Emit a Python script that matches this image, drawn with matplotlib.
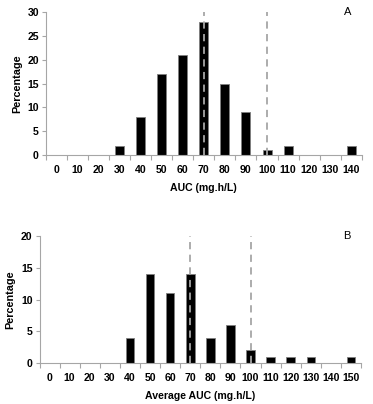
import numpy as np
import matplotlib
matplotlib.use("Agg")
import matplotlib.pyplot as plt

plt.rcParams['font.family'] = ['Liberation Sans', 'DejaVu Sans']

# panel A
cats_a = [0, 10, 20, 30, 40, 50, 60, 70, 80, 90, 100, 110, 120, 130, 140]
vals_a = [0, 0, 0, 2, 8, 17, 21, 28, 15, 9, 1, 2, 0, 0, 2]
# panel B
cats_b = [0, 10, 20, 30, 40, 50, 60, 70, 80, 90, 100, 110, 120, 130, 140, 150]
vals_b = [0, 0, 0, 0, 4, 14, 11, 14, 4, 6, 2, 1, 1, 1, 0, 1]
cutoffs = [70, 100]

fig = plt.figure(figsize=(3.73, 4.04), dpi=100)
ax_a = fig.add_axes([0.123, 0.616, 0.847, 0.354])
ax_b = fig.add_axes([0.106, 0.101, 0.862, 0.315])

def panel(ax, cats, vals, ymax, ystep, xlabel, tag):
    n = len(cats)
    x = np.arange(n)
    ax.bar(x, vals, width=0.43, color='black', edgecolor='#7f7f7f', linewidth=0.6, zorder=2)
    for c in cutoffs:
        ax.axvline(cats.index(c), color='#a6a6a6', linestyle=(0, (4, 3)), lw=1.3, zorder=3)
    ax.set_xlim(-0.5, n - 0.5)
    ax.set_ylim(0, ymax)
    ax.set_yticks(np.arange(0, ymax + 1, ystep))
    ax.set_xticks(x)
    ax.set_xticklabels([str(c) for c in cats], fontsize=7.6, fontweight='bold')
    ax.set_xticks(np.arange(n + 1) - 0.5, minor=True)
    ax.tick_params(axis='x', which='major', length=0, pad=7)
    ax.tick_params(axis='x', which='minor', length=3.5, color='#a6a6a6', width=0.8)
    ax.tick_params(axis='y', length=3, color='#a6a6a6', width=0.8, pad=2, labelsize=7.6)
    for lab in ax.get_yticklabels():
        lab.set_fontweight('bold')
    for s in ['top', 'right']:
        ax.spines[s].set_visible(False)
    for s in ['left', 'bottom']:
        ax.spines[s].set_color('#a6a6a6')
        ax.spines[s].set_linewidth(0.8)
    ax.set_ylabel('Percentage', fontsize=7.8, fontweight='bold', labelpad=4)
    ax.set_xlabel(xlabel, fontsize=7.6, fontweight='bold', labelpad=6)
    ax.text(0.955, 1.0, tag, transform=ax.transAxes, fontsize=8, ha='center', va='center')

panel(ax_a, cats_a, vals_a, 30, 5, 'AUC (mg.h/L)', 'A')
panel(ax_b, cats_b, vals_b, 20, 5, 'Average AUC (mg.h/L)', 'B')

fig.savefig('out.png', dpi=100)
